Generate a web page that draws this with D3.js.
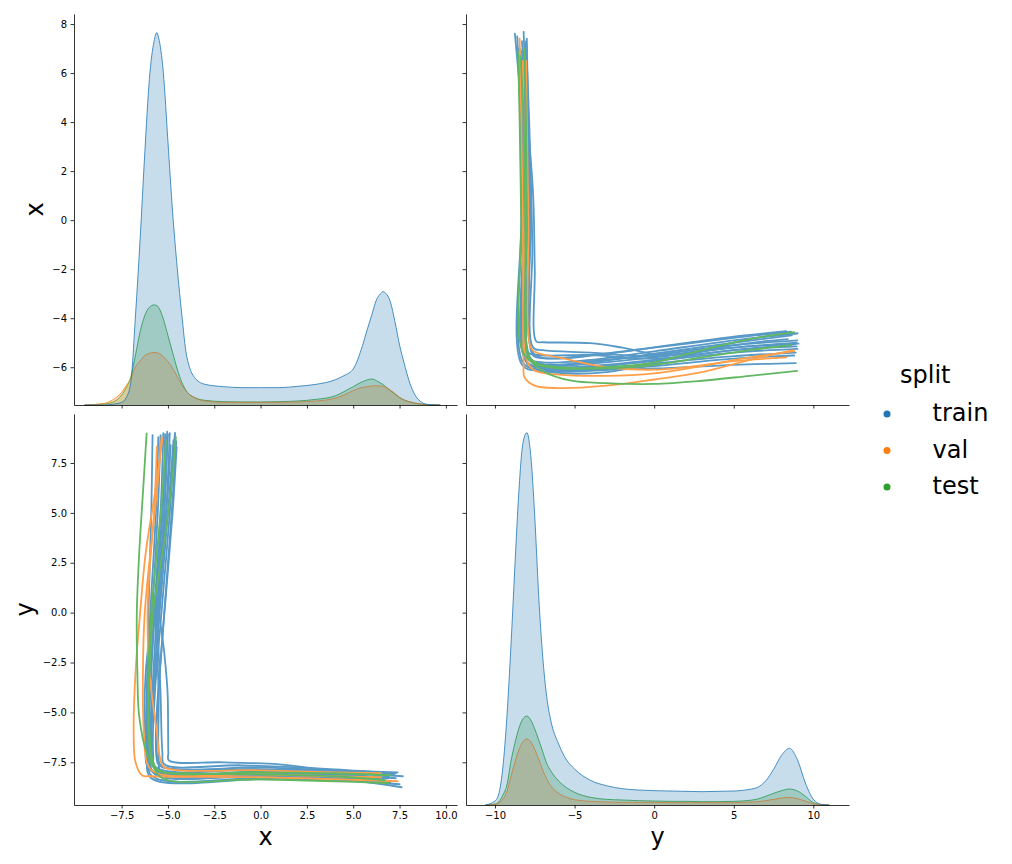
<!DOCTYPE html>
<html>
<head>
<meta charset="utf-8">
<script src="https://cdn.jsdelivr.net/npm/d3@7"></script>
<style>
  body { margin: 0; background: #fff; }
  svg text { font-family: "DejaVu Sans", sans-serif; }
</style>
</head>
<body>
<svg id="chart" width="1012" height="864"></svg>
<script>
// hue levels
var splits = ['train', 'val', 'test'];
var splitColors = ['#1f77b4', '#ff7f0e', '#2ca02c'];
var trackColors = ['#5799c7', '#ff9f4a', '#61b861'];

// tick labels
var xVarTicksCol = [-7.5, -5, -2.5, 0, 2.5, 5, 7.5, 10];
var yVarTicksCol = [-10, -5, 0, 5, 10];
var xVarTicksRow = [-6, -4, -2, 0, 2, 4, 6, 8];
var yVarTicksRow = [-7.5, -5, -2.5, 0, 2.5, 5, 7.5];

// axis limits
var xVarColDomain = [-10.07, 10.6];
var yVarColDomain = [-11.82, 12.24];
var xVarRowDomain = [-7.54, 8.41];
var yVarRowDomain = [-9.64, 9.955];

// diagonal kde of x (relative density, common norm)
var kdeXGrid  = [-9.5, -8.5, -8, -7.5, -7.25, -7, -6.75, -6.5, -6.25, -6, -5.75, -5.6, -5.5, -5.25, -5, -4.75, -4.5, -4.25, -4, -3.5, -3, -2, -1, 0, 1, 2, 3, 4, 4.5, 5, 5.5, 5.75, 6, 6.25, 6.5, 6.6, 6.75, 7, 7.25, 7.5, 7.75, 8, 8.5, 9, 9.7];
var kdeXTrain = [0, 0, 2, 8, 22, 70, 270, 498, 755, 978, 1090, 1116, 1100, 997, 789, 579, 411, 270, 150, 78, 62, 55, 52, 52, 52, 56, 62, 75, 88, 108, 178, 225, 270, 315, 335, 340, 335, 310, 250, 180, 125, 75, 17, 2, 0];
var kdeXVal   = [0, 4, 15, 38, 58, 80, 115, 132, 148, 155, 157, 157, 155, 145, 130, 110, 85, 60, 40, 20, 12, 8, 8, 8, 8, 9, 12, 20, 30, 43, 53, 55, 57, 58, 57, 56, 53, 45, 35, 23, 15, 10, 4, 1, 0];
var kdeXTest  = [0, 3, 8, 30, 52, 85, 150, 220, 268, 293, 300, 298, 292, 258, 208, 158, 108, 68, 42, 21, 14, 10, 9, 9, 10, 12, 17, 27, 40, 55, 70, 75, 78, 73, 65, 62, 55, 43, 32, 22, 15, 10, 4, 1, 0];

// diagonal kde of y
var kdeYGrid  = [-10.6, -10, -9.75, -9.5, -9.25, -9, -8.75, -8.5, -8.25, -8, -7.75, -7.5, -7.25, -7, -6.75, -6.5, -6, -5.5, -5, -4, -3, -2, -1, 0, 1, 2, 3, 4, 5, 6, 6.5, 7, 7.5, 8, 8.5, 9, 9.5, 10, 10.5, 11];
var kdeYTrain = [0, 12, 35, 115, 265, 475, 715, 940, 1085, 1118, 1049, 865, 625, 445, 325, 255, 183, 135, 108, 74, 58, 49, 45, 43, 42, 41, 40, 41, 42, 47, 53, 72, 107, 149, 170, 136, 66, 17, 2, 0];
var kdeYVal   = [0, 2, 6, 18, 40, 85, 128, 165, 190, 198, 190, 167, 137, 105, 78, 58, 35, 23, 16, 11, 9, 8, 8, 8, 7, 7, 7, 7, 7, 9, 10, 13, 17, 21, 23, 19, 12, 4, 1, 0];
var kdeYTest  = [0, 3, 10, 30, 60, 130, 185, 230, 258, 267, 255, 228, 195, 160, 125, 103, 72, 52, 38, 23, 17, 15, 13, 12, 11, 11, 10, 10, 11, 14, 18, 26, 35, 43, 48, 42, 26, 7, 1, 0];

// off-diagonal point runs, each as [x, y] pairs
var trainTracks = [
  [[-4.62, 9.0], [-4.85, 6], [-5.3, 3], [-5.5, 0.5], [-5.2, -2], [-5.02, -4], [-4.98, -7.0], [-4.95, -7.4], [-2, -7.5], [1, -7.6], [4.3, -7.95], [7.16, -8.03]],
  [[-4.53, 8.3], [-4.75, 5], [-5.1, 1], [-5.45, -3], [-5.65, -6], [-5.55, -7.55], [-5.3, -7.75], [0, -7.85], [4, -8.0], [7.68, -8.2]],
  [[-4.62, 9.0], [-4.9, 5], [-5.35, 0], [-5.7, -4], [-5.8, -7.0], [-5.6, -7.9], [0, -7.95], [4, -8.05], [7.2, -8.1]],
  [[-4.7, 8.65], [-5.0, 5], [-5.45, 0], [-5.8, -4], [-5.85, -7.2], [-5.5, -8.0], [0, -8.1], [4, -8.3], [7.61, -8.75]],
  [[-4.9, 9.0], [-5.1, 5], [-5.5, 0], [-5.75, -4], [-5.9, -6.8], [-5.65, -7.75], [0, -7.85], [4.3, -7.95], [6.9, -8.2]],
  [[-5.04, 9.07], [-5.2, 5], [-5.6, 0], [-5.85, -4], [-5.95, -6.5], [-5.7, -7.85], [0, -8.0], [4, -8.1], [7.0, -8.45]],
  [[-5.07, 8.85], [-5.3, 5], [-5.7, 0], [-5.95, -4], [-6.0, -6.8], [-5.75, -8.05], [0, -8.15], [4, -8.2], [6.8, -8.6]],
  [[-5.25, 9.0], [-5.4, 5], [-5.75, 0], [-6.0, -4], [-6.05, -7.0], [-5.8, -7.95], [0, -8.05], [4, -8.1], [7.3, -8.3]],
  [[-5.4, 8.9], [-5.55, 5], [-5.85, 0], [-6.1, -4], [-6.1, -7.0], [-5.85, -8.2], [0, -8.3], [4, -8.35], [6.5, -8.5]],
  [[-5.52, 8.8], [-5.65, 5], [-5.95, 0], [-6.15, -4], [-6.15, -7.2], [-5.9, -8.3], [0, -8.35], [4, -8.4], [7.5, -8.6]],
  [[-5.83, 8.9], [-5.9, 5], [-6.05, 0], [-6.1, -4], [-6.0, -7.3], [-5.7, -8.1], [0, -8.2], [4, -8.3], [7.0, -8.5]],
  [[-4.55, 8.6], [-4.8, 5], [-5.2, 0], [-5.5, -4], [-5.6, -7.1], [-5.3, -7.7], [0, -7.75], [4, -7.9], [7.4, -8.0]],
  [[-5.0, 8.95], [-5.2, 5], [-5.55, 0], [-5.4, -4], [-5.3, -7.0], [-5.2, -7.6], [-1, -7.65], [4, -7.85], [7.3, -8.05]],
  [[-4.85, 8.4], [-5.1, 5], [-5.8, 0], [-6.2, -3], [-6.2, -6.5], [-5.95, -7.9], [0, -8.0], [4, -8.1], [6.6, -8.35]],
  [[-5.15, 8.95], [-5.3, 5], [-5.65, 0], [-5.5, -4], [-5.5, -7.2], [-5.35, -8.0], [0, -8.1], [4, -8.15], [6.9, -8.3]]
];
var valTracks = [
  [[-5.3, 8.7], [-5.7, 6], [-6.2, 3], [-6.5, 0], [-6.75, -3], [-6.85, -6], [-6.75, -7.5], [-6.4, -8.15], [-5.9, -8.2], [0, -8.25], [4, -8.35], [7.4, -8.45]],
  [[-5.34, 8.82], [-5.6, 6], [-5.95, 3], [-6.25, 0], [-6.35, -3], [-6.3, -6], [-6.1, -7.6], [-5.6, -8.05], [0, -8.1], [4, -8.2], [6.5, -8.25]],
  [[-5.6, 8.3], [-5.75, 5], [-6.0, 2], [-6.1, 0], [-6.0, -3], [-5.6, -6], [-5.4, -7.4], [-5.2, -7.75], [0, -7.9], [4, -8.0], [6.5, -8.05]]
];
var testTracks = [
  [[-6.15, 8.98], [-6.35, 6], [-6.55, 3], [-6.68, 0], [-6.65, -3], [-6.55, -5.2], [-6.15, -7.0], [-5.6, -7.9], [-4, -8.05], [0, -8.1], [4, -8.2], [6.7, -8.4]],
  [[-4.57, 8.8], [-4.85, 6], [-5.3, 3], [-5.8, 0], [-6.0, -3], [-6.05, -6], [-5.85, -7.5], [-5.3, -8.3], [0, -8.35], [4, -8.45], [6.9, -8.55]],
  [[-5.1, 8.6], [-5.3, 6], [-5.6, 3], [-5.9, 0], [-6.05, -3], [-6.0, -6], [-5.85, -7.3], [-5.5, -7.9], [0, -8.0], [4, -8.05], [7.0, -8.15]]
];

var svg = d3.select('#chart');
svg.append('rect').attr('width', 1012).attr('height', 864).attr('fill', '#fff');

var col0 = [74, 457], col1 = [466, 849];
var row0 = [405, 14], row1 = [805, 414];

var xCol = d3.scaleLinear().domain(xVarColDomain).range(col0);
var yCol = d3.scaleLinear().domain(yVarColDomain).range(col1);
var xRow = d3.scaleLinear().domain(xVarRowDomain).range(row0);
var yRow = d3.scaleLinear().domain(yVarRowDomain).range(row1);

var fmt1 = d3.format('.1f'), fmtInt = d3.format('d');

function drawAxes(hScale, vScale, hTicks, vTicks, hFmt, vFmt) {
  var bottom = vScale.range()[0], left = hScale.range()[0];
  var gx = svg.append('g')
    .attr('transform', 'translate(0,' + bottom + ')')
    .call(d3.axisBottom(hScale).tickValues(hTicks).tickSize(3.5).tickSizeOuter(0)
      .tickPadding(3.5).tickFormat(hFmt || ''));
  var gy = svg.append('g')
    .attr('transform', 'translate(' + left + ',0)')
    .call(d3.axisLeft(vScale).tickValues(vTicks).tickSize(3.5).tickSizeOuter(0)
      .tickPadding(3.5).tickFormat(vFmt || ''));
  [gx, gy].forEach(function (g) {
    g.select('.domain').attr('stroke', '#000').attr('stroke-width', 0.8);
    g.selectAll('.tick line').attr('stroke', '#000').attr('stroke-width', 0.8);
    g.selectAll('.tick text').attr('fill', '#000')
      .style('font-family', '"DejaVu Sans", sans-serif').style('font-size', '10px');
  });
}

function drawKde(hScale, vRange, grid, series) {
  var peak = d3.max(series[0]);
  var v = d3.scaleLinear().domain([0, peak * 1.05]).range(vRange);
  var area = d3.area()
    .x(function (d) { return hScale(d[0]); })
    .y0(v(0))
    .y1(function (d) { return v(d[1]); })
    .curve(d3.curveMonotoneX);
  var line = d3.line()
    .x(function (d) { return hScale(d[0]); })
    .y(function (d) { return v(d[1]); })
    .curve(d3.curveMonotoneX);
  // seaborn layers hue levels in reverse
  [2, 1, 0].forEach(function (i) {
    var pts = grid.map(function (g, k) { return [g, series[i][k]]; });
    svg.append('path').datum(pts).attr('d', area)
      .attr('fill', splitColors[i]).attr('fill-opacity', 0.25);
    svg.append('path').datum(pts).attr('d', line)
      .attr('fill', 'none').attr('stroke', splitColors[i])
      .attr('stroke-width', 0.8);
  });
}

function drawTracks(hScale, vScale, swap) {
  var line = d3.line()
    .x(function (d) { return hScale(swap ? d[1] : d[0]); })
    .y(function (d) { return vScale(swap ? d[0] : d[1]); })
    .curve(d3.curveCatmullRom.alpha(0.5));
  [trainTracks, valTracks, testTracks].forEach(function (tracks, i) {
    svg.append('g').selectAll('path').data(tracks).join('path')
      .attr('d', line)
      .attr('fill', 'none')
      .attr('stroke', trackColors[i])
      .attr('stroke-width', 1.8)
      .attr('stroke-linejoin', 'round')
      .attr('stroke-linecap', 'round');
  });
}

// top-left: kde of x
drawKde(xCol, row0, kdeXGrid, [kdeXTrain, kdeXVal, kdeXTest]);
drawAxes(xCol, xRow, xVarTicksCol, xVarTicksRow, null, fmtInt);

// top-right: y (horizontal) vs x (vertical)
drawTracks(yCol, xRow, true);
drawAxes(yCol, xRow, yVarTicksCol, xVarTicksRow, null, null);

// bottom-left: x (horizontal) vs y (vertical)
drawTracks(xCol, yRow, false);
drawAxes(xCol, yRow, xVarTicksCol, yVarTicksRow, fmt1, fmt1);

// bottom-right: kde of y
drawKde(yCol, row1, kdeYGrid, [kdeYTrain, kdeYVal, kdeYTest]);
drawAxes(yCol, yRow, yVarTicksCol, yVarTicksRow, fmtInt, null);

// axis labels
function label(txt, x, y, rot) {
  svg.append('text')
    .attr('transform', 'translate(' + x + ',' + y + ')' + (rot ? ' rotate(-90)' : ''))
    .attr('text-anchor', 'middle')
    .style('font-size', '24px')
    .attr('fill', '#000')
    .text(txt);
}
label('x', 43, 209.5, true);
label('y', 33, 609.5, true);
label('x', 265.5, 845, false);
label('y', 657.5, 845, false);

// legend
var legend = svg.append('g');
legend.append('text').attr('x', 900).attr('y', 383)
  .style('font-size', '24px').attr('fill', '#000').text('split');
splits.forEach(function (s, i) {
  var base = 421 + i * 36.5;
  legend.append('circle').attr('cx', 887).attr('cy', base - 7).attr('r', 3.5)
    .attr('fill', splitColors[i]);
  legend.append('text').attr('x', 932.5).attr('y', base)
    .style('font-size', '24px').attr('fill', '#000').text(s);
});
</script>
</body>
</html>
